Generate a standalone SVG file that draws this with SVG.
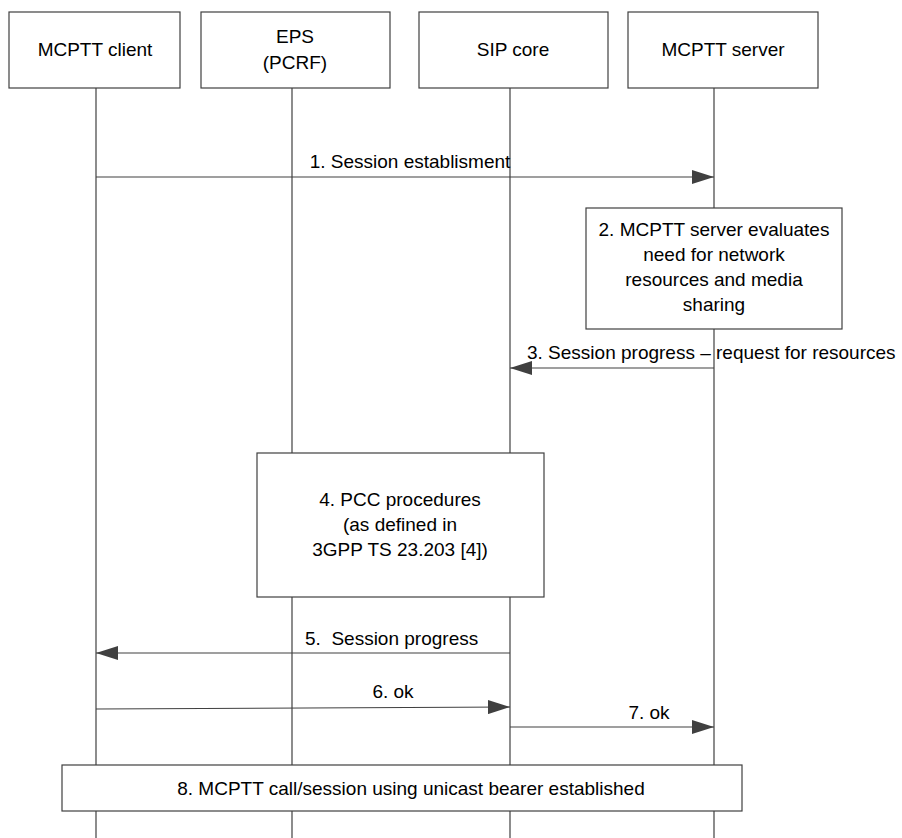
<svg xmlns="http://www.w3.org/2000/svg" width="902" height="838" viewBox="0 0 902 838">
<style>
text{font-family:"Liberation Sans",Arial,sans-serif;font-size:19px;fill:#000}
.c{text-anchor:middle}
.box{fill:#fff;stroke:#404040;stroke-width:1.2}
.life{stroke:#404040;stroke-width:1.2;fill:none}
.msg{stroke:#404040;stroke-width:1.2;fill:none;marker-end:url(#ah)}
</style>
<defs>
<marker id="ah" markerUnits="userSpaceOnUse" markerWidth="22" markerHeight="14" refX="22" refY="7" orient="auto">
<path d="M0,0 L22,7 L0,14 Z" fill="#404040"/>
</marker>
</defs>
<g id="lifelines">
<line class="life" x1="96" y1="88" x2="96" y2="838"/>
<line class="life" x1="292" y1="88" x2="292" y2="838"/>
<line class="life" x1="510" y1="88" x2="510" y2="838"/>
<line class="life" x1="714" y1="88" x2="714" y2="838"/>
</g>
<g id="node-client"><rect class="box" x="9" y="12" width="171" height="76"/><text class="c" x="95" y="56">MCPTT client</text></g>
<g id="node-eps"><rect class="box" x="201" y="12" width="189" height="76"/><text class="c" x="295" y="43">EPS</text><text class="c" x="295" y="69">(PCRF)</text></g>
<g id="node-sip"><rect class="box" x="419" y="12" width="189" height="76"/><text class="c" x="513" y="56">SIP core</text></g>
<g id="node-server"><rect class="box" x="628" y="12" width="190" height="76"/><text class="c" x="723" y="56">MCPTT server</text></g>
<g id="node-step2"><rect class="box" x="586" y="208" width="256" height="121"/>
<text class="c" x="714" y="236">2. MCPTT server evaluates</text>
<text class="c" x="714" y="261">need for network</text>
<text class="c" x="714" y="286">resources and media</text>
<text class="c" x="714" y="311">sharing</text></g>
<g id="node-step4"><rect class="box" x="257" y="453" width="287" height="144"/>
<text class="c" x="400" y="506">4. PCC procedures</text>
<text class="c" x="400" y="531">(as defined in</text>
<text class="c" x="400" y="556">3GPP TS 23.203 [4])</text></g>
<g id="node-step8"><rect class="box" x="62" y="765" width="680" height="46"/>
<text class="c" x="411" y="795">8. MCPTT call/session using unicast bearer established</text></g>
<g id="connectors">
<line class="msg" x1="96" y1="177" x2="714" y2="177"/>
<line class="msg" x1="714" y1="368" x2="510" y2="368"/>
<line class="msg" x1="510" y1="653" x2="96" y2="653"/>
<line class="msg" x1="96" y1="709" x2="510" y2="707"/>
<line class="msg" x1="510" y1="727" x2="714" y2="727"/>
</g>
<g id="labels">
<text class="c" x="410" y="168">1. Session establisment</text>
<text x="527" y="359">3. Session progress – request for resources</text>
<text x="305" y="645" xml:space="preserve">5.  Session progress</text>
<text class="c" x="393" y="698">6. ok</text>
<text class="c" x="649" y="719">7. ok</text>
</g>
</svg>
